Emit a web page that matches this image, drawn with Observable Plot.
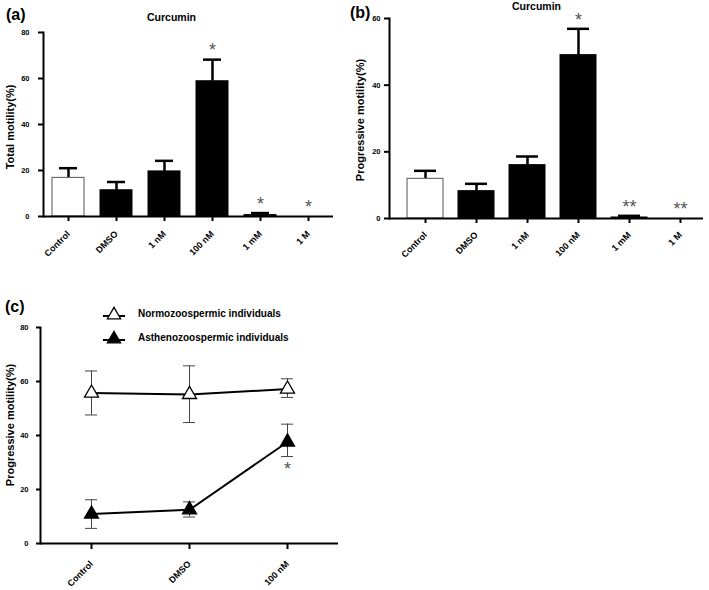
<!DOCTYPE html>
<html>
<head>
<meta charset="utf-8">
<script src="https://cdn.jsdelivr.net/npm/d3@7"></script>
<script src="https://cdn.jsdelivr.net/npm/@observablehq/plot@0.6"></script>
<style>
  body { margin: 0; background: #fff; }
  #fig { position: relative; width: 709px; height: 590px; font-family: "Liberation Sans", Arial, sans-serif; font-weight: bold; color: #000; overflow: hidden; }
  .abs { position: absolute; white-space: nowrap; line-height: 1; }
  .plab { font-size: 16px; font-weight: bold; }
  .ttl { font-size: 10.5px; font-weight: bold; }
  .leg { font-size: 10px; font-weight: bold; }
  .ylab { font-size: 11px; font-weight: bold; transform: translate(-50%, -50%) rotate(-90deg); }
</style>
</head>
<body>
<div id="fig"></div>
<script>
// ---- data ----
const categories = ["Control", "DMSO", "1 nM", "100 nM", "1 mM", "1 M"];
const totalMean = [16.8, 11.4, 19.6, 58.8, 0.6, 0];
const totalErr  = [21.0, 15.0, 24.2, 68.2, 1.5, 0];
const totalSig  = ["", "", "", "*", "*", "*"];
const progMean  = [11.9, 8.2, 16.0, 49.0, 0.3, 0];
const progErr   = [14.3, 10.4, 18.6, 56.9, 0.8, 0];
const progSig   = ["", "", "", "*", "**", "**"];

const groups = ["Control", "DMSO", "100 nM"];
const seriesNames = ["Normozoospermic individuals", "Asthenozoospermic individuals"];
const normoMean = [55.7, 55.2, 57.2];
const normoLo   = [47.6, 44.8, 54.1];
const normoHi   = [63.9, 65.8, 61.0];
const asthMean  = [10.9, 12.5, 37.6];
const asthLo    = [5.6, 9.8, 32.2];
const asthHi    = [16.2, 15.4, 44.2];
const asthSig   = ["", "", "*"];

const fig = document.getElementById("fig");
const FONT = "Liberation Sans, Arial, sans-serif";

function place(el, left, top) {
  el.style.position = "absolute";
  el.style.left = left + "px";
  el.style.top = top + "px";
  fig.appendChild(el);
}
function label(text, cls, left, top) {
  const d = document.createElement("div");
  d.className = "abs " + cls;
  d.textContent = text;
  d.style.left = left + "px";
  d.style.top = top + "px";
  fig.appendChild(d);
  return d;
}

function barPanel({means, errs, sigs, yMax, width, marginLeft, marginRight, marginTop, height, marginBottom, paddingInner, paddingOuter, align, yPad, xPad}) {
  const rows = categories.map((c, i) => ({c, m: means[i], e: errs[i], s: sigs[i], i}));
  return Plot.plot({
    width, height, marginLeft, marginRight, marginTop, marginBottom,
    style: {fontFamily: FONT, fontSize: "9px", fontWeight: "bold", background: "transparent", overflow: "visible", color: "#000"},
    x: {domain: categories, paddingInner, paddingOuter, align, label: null},
    y: {domain: [0, yMax], ticks: d3.range(0, yMax + 1, 20), label: null},
    marks: [
      Plot.ruleX(rows, {x: "c", y1: "m", y2: "e", stroke: "#000", strokeWidth: 2.5}),
      Plot.tickY(rows.filter(d => d.e > 0), {x: "c", y: "e", stroke: "#000", strokeWidth: 2.5, insetLeft: 7, insetRight: 7}),
      Plot.barY(rows, {x: "c", y: "m", fill: d => d.i === 0 ? "#fff" : "#000", stroke: d => d.i === 0 ? "#555" : "#000", strokeWidth: 1}),
      Plot.text(rows.filter(d => d.s), {x: "c", y: "e", text: "s", dy: -9, fontSize: 18, fontWeight: "normal", fill: "#555", lineAnchor: "middle"}),
      Plot.ruleY([0], {stroke: "#000", strokeWidth: 2}),
      Plot.frame({anchor: "left", stroke: "#000", strokeWidth: 2}),
      Plot.axisY({ticks: d3.range(0, yMax + 1, 20), tickSize: 5, tickPadding: yPad, strokeWidth: 2, label: null, fontSize: 7.5}),
      Plot.axisX({tickSize: 5, tickRotate: -45, tickPadding: xPad, strokeWidth: 2, label: null, fontSize: 9})
    ]
  });
}

// ---- panel (a) ----
const pa = barPanel({means: totalMean, errs: totalErr, sigs: totalSig, yMax: 80,
  width: 350, marginLeft: 43, marginRight: 17, marginTop: 32, height: 270, marginBottom: 54,
  paddingInner: 0.34, paddingOuter: 0.17, align: 0.5, yPad: 9, xPad: 11});
place(pa, 0, 0);

// ---- panel (b) ----
const pb = barPanel({means: progMean, errs: progErr, sigs: progSig, yMax: 60,
  width: 359, marginLeft: 39, marginRight: 6, marginTop: 18, height: 270, marginBottom: 52,
  paddingInner: 0.294, paddingOuter: 0.225, align: 0.78, yPad: 4, xPad: 10});
place(pb, 350, 0);

// ---- panel (c) ----
const lineRows = [];
groups.forEach((g, i) => {
  lineRows.push({g, series: seriesNames[0], m: normoMean[i], lo: normoLo[i], hi: normoHi[i], s: ""});
  lineRows.push({g, series: seriesNames[1], m: asthMean[i], lo: asthLo[i], hi: asthHi[i], s: asthSig[i]});
});
const pc = Plot.plot({
  width: 360, height: 290, marginLeft: 40, marginRight: 22, marginTop: 27, marginBottom: 47,
  style: {fontFamily: FONT, fontSize: "9px", fontWeight: "bold", background: "transparent", overflow: "visible", color: "#000"},
  x: {domain: groups, paddingInner: 0.878, paddingOuter: 0.457, label: null},
  y: {domain: [0, 80], ticks: [0, 20, 40, 60, 80], label: null},
  marks: [
    Plot.ruleX(lineRows, {x: "g", y1: "lo", y2: "hi", stroke: "#444", strokeWidth: 1}),
    Plot.tickY(lineRows, {x: "g", y: "lo", stroke: "#444", strokeWidth: 1}),
    Plot.tickY(lineRows, {x: "g", y: "hi", stroke: "#444", strokeWidth: 1}),
    Plot.lineY(lineRows, {x: "g", y: "m", z: "series", stroke: "#000", strokeWidth: 2}),
    Plot.dot(lineRows, {x: "g", y: "m", symbol: "triangle", r: 5.2, fill: d => d.series === seriesNames[0] ? "#fff" : "#000", stroke: "#000", strokeWidth: 1.3}),
    Plot.text(lineRows.filter(d => d.s), {x: "g", y: "lo", text: "s", dy: 13, fontSize: 18, fontWeight: "normal", fill: "#555", lineAnchor: "middle"}),
    Plot.ruleY([0], {stroke: "#000", strokeWidth: 2}),
    Plot.frame({anchor: "left", stroke: "#000", strokeWidth: 2}),
    Plot.axisY({ticks: [0, 20, 40, 60, 80], tickSize: 4, tickPadding: 8, strokeWidth: 2, label: null, fontSize: 7.5}),
    Plot.axisX({tickSize: 6, tickRotate: -45, tickPadding: 13, strokeWidth: 2, label: null, fontSize: 9})
  ]
});
place(pc, 0, 300);

// ---- legend for (c) ----
function legendItem(name, filled, top) {
  const ns = "http://www.w3.org/2000/svg";
  const svg = document.createElementNS(ns, "svg");
  svg.setAttribute("width", 24); svg.setAttribute("height", 16);
  const ln = document.createElementNS(ns, "line");
  ln.setAttribute("x1", 0); ln.setAttribute("x2", 22); ln.setAttribute("y1", 10); ln.setAttribute("y2", 10);
  ln.setAttribute("stroke", "#000"); ln.setAttribute("stroke-width", 2);
  const tri = document.createElementNS(ns, "path");
  tri.setAttribute("d", d3.symbol(d3.symbolTriangle, 75)());
  tri.setAttribute("transform", "translate(11,9)");
  tri.setAttribute("fill", filled ? "#000" : "#fff");
  tri.setAttribute("stroke", "#000"); tri.setAttribute("stroke-width", 1.3);
  svg.append(ln, tri);
  place(svg, 103, top);
  label(name, "leg", 138, top + 3);
}
legendItem(seriesNames[0], false, 306);
legendItem(seriesNames[1], true, 330);

// ---- titles, axis titles & panel labels ----
label("(a)", "plab", 6, 7);
label("(b)", "plab", 350, 5);
label("(c)", "plab", 5, 299);
label("Curcumin", "ttl", 147, 12);
label("Curcumin", "ttl", 512, 1);
label("Total motility(%)", "ylab", 10, 127);
label("Progressive motility(%)", "ylab", 360, 120);
label("Progressive motility(%)", "ylab", 10, 425);
</script>
</body>
</html>
